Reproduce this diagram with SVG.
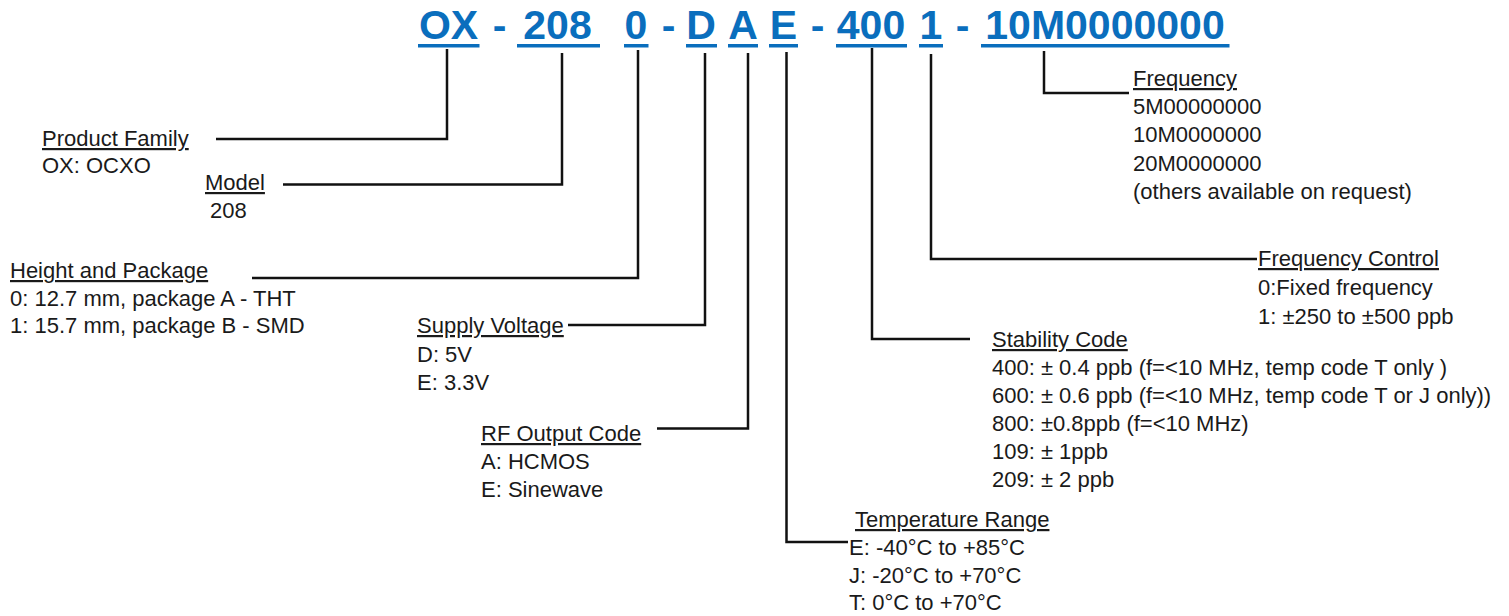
<svg xmlns="http://www.w3.org/2000/svg" width="1509" height="616" viewBox="0 0 1509 616">
<style>
.t{font-family:"Liberation Sans",Arial,sans-serif;font-weight:bold;font-size:41px;fill:#0A6EBD;text-anchor:middle}
.u{fill:#0A6EBD}
.h{font-family:"Liberation Sans",Arial,sans-serif;font-size:22px;fill:#1a1a1a;text-decoration:underline}
.l{font-family:"Liberation Sans",Arial,sans-serif;font-size:22px;fill:#1a1a1a}
.c{fill:none;stroke:#111;stroke-width:2.5}
</style>
<rect width="1509" height="616" fill="#fff"/>
<g id="code">
<text class="t" x="448.5" y="39">OX</text>
<text class="t" x="499.5" y="39">-</text>
<text class="t" x="557.5" y="39">208</text>
<text class="t" x="636" y="39">0</text>
<text class="t" x="668.5" y="39">-</text>
<text class="t" x="701" y="39">D</text>
<text class="t" x="743" y="39">A</text>
<text class="t" x="783.5" y="39">E</text>
<text class="t" x="817.5" y="39">-</text>
<text class="t" x="871" y="39">400</text>
<text class="t" x="931" y="39">1</text>
<text class="t" x="962.5" y="39">-</text>
<text class="t" x="1105" y="39">10M0000000</text>
<rect class="u" x="418" y="44" width="61.5" height="3.5"/>
<rect class="u" x="517" y="44" width="83" height="3.5"/>
<rect class="u" x="624" y="44" width="24.5" height="3.5"/>
<rect class="u" x="686" y="44" width="31" height="3.5"/>
<rect class="u" x="728" y="44" width="30" height="3.5"/>
<rect class="u" x="769" y="44" width="29" height="3.5"/>
<rect class="u" x="836" y="44" width="71" height="3.5"/>
<rect class="u" x="919" y="44" width="24" height="3.5"/>
<rect class="u" x="981" y="44" width="248.5" height="3.5"/>
</g>
<g id="connectors">
<polyline class="c" points="216,139 447,139 447,49"/>
<polyline class="c" points="283,184.5 562,184.5 562,53"/>
<polyline class="c" points="252,278 638,278 638,50"/>
<polyline class="c" points="568,325 705,325 705,53"/>
<polyline class="c" points="657,428.5 748,428.5 748,53"/>
<polyline class="c" points="848,542 786.5,542 786.5,52"/>
<polyline class="c" points="970,339 872,339 872,48"/>
<polyline class="c" points="1257,259 931,259 931,54"/>
<polyline class="c" points="1129,93 1044,93 1044,51"/>
</g>
<g id="product-family">
<text class="h" x="42" y="146">Product Family</text>
<text class="l" x="42" y="173">OX: OCXO</text>
</g>
<g id="model">
<text class="h" x="205" y="190">Model</text>
<text class="l" x="210" y="218">208</text>
</g>
<g id="height-package">
<text class="h" x="10" y="278">Height and Package</text>
<text class="l" x="10" y="306">0: 12.7 mm, package A - THT</text>
<text class="l" x="10" y="333">1: 15.7 mm, package B - SMD</text>
</g>
<g id="supply-voltage">
<text class="h" x="417" y="333">Supply Voltage</text>
<text class="l" x="417" y="362">D: 5V</text>
<text class="l" x="417" y="390">E: 3.3V</text>
</g>
<g id="rf-output">
<text class="h" x="481" y="441">RF Output Code</text>
<text class="l" x="481" y="469">A: HCMOS</text>
<text class="l" x="481" y="497">E: Sinewave</text>
</g>
<g id="temperature">
<text class="h" x="855" y="527">Temperature Range</text>
<text class="l" x="849" y="555">E: -40°C to +85°C</text>
<text class="l" x="849" y="583">J: -20°C to +70°C</text>
<text class="l" x="849" y="610">T: 0°C to +70°C</text>
</g>
<g id="stability">
<text class="h" x="992" y="347">Stability Code</text>
<text class="l" x="992" y="375">400: ± 0.4 ppb (f=&lt;10 MHz, temp code T only )</text>
<text class="l" x="992" y="403">600: ± 0.6 ppb (f=&lt;10 MHz, temp code T or J only))</text>
<text class="l" x="992" y="431">800: ±0.8ppb (f=&lt;10 MHz)</text>
<text class="l" x="992" y="459">109: ± 1ppb</text>
<text class="l" x="992" y="487">209: ± 2 ppb</text>
</g>
<g id="frequency-control">
<text class="h" x="1258" y="266">Frequency Control</text>
<text class="l" x="1258" y="295">0:Fixed frequency</text>
<text class="l" x="1258" y="324">1: ±250 to ±500 ppb</text>
</g>
<g id="frequency">
<text class="h" x="1133" y="86">Frequency</text>
<text class="l" x="1133" y="114">5M00000000</text>
<text class="l" x="1133" y="142">10M0000000</text>
<text class="l" x="1133" y="171">20M0000000</text>
<text class="l" x="1133" y="199">(others available on request)</text>
</g>
</svg>
